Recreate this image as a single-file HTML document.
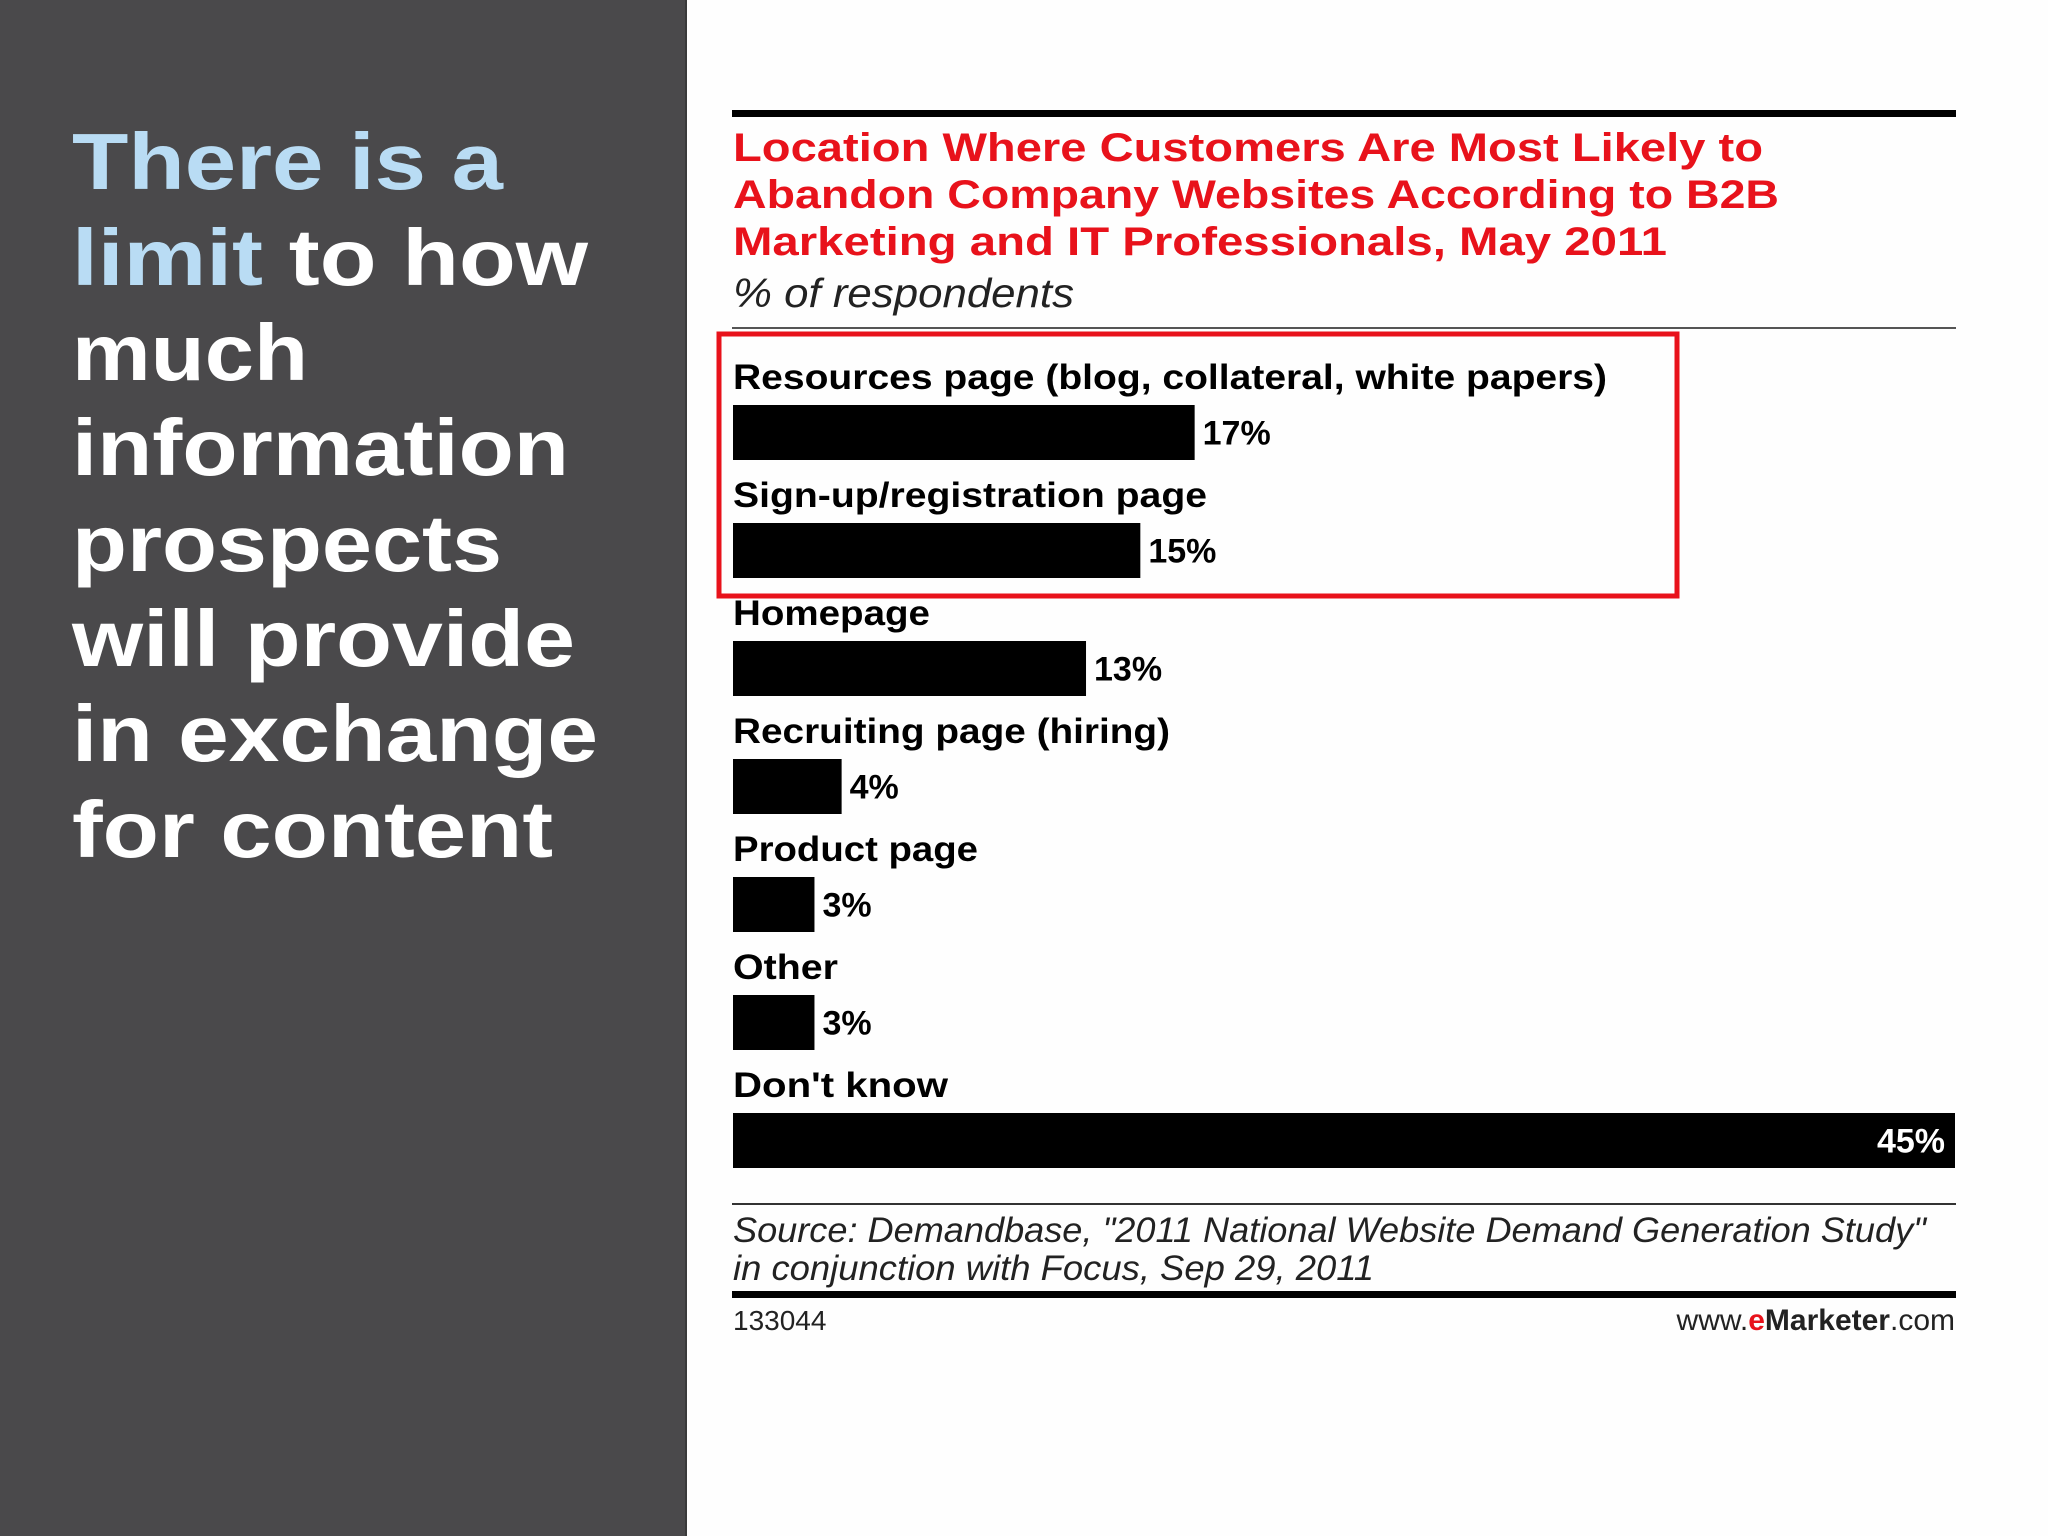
<!DOCTYPE html>
<html><head><meta charset="utf-8"><style>
html,body{margin:0;padding:0;background:#fff;}
svg{display:block;}
</style></head><body>
<svg width="2048" height="1536" viewBox="0 0 2048 1536" xmlns="http://www.w3.org/2000/svg">
<rect x="0" y="0" width="2048" height="1536" fill="#fefefe"/>
<rect x="0" y="0" width="686" height="1536" fill="#4a494b"/>
<rect x="685" y="0" width="2" height="1536" fill="#3a3a3a"/>
<g font-family="'Liberation Sans',sans-serif" font-weight="bold" font-size="80" fill="#ffffff">
<text x="72" y="189" textLength="431" lengthAdjust="spacingAndGlyphs" fill="#b9dcf4">There is a</text>
<text x="72" y="285" textLength="516" lengthAdjust="spacingAndGlyphs"><tspan fill="#b9dcf4">limit</tspan> to how</text>
<text x="72" y="380" textLength="236" lengthAdjust="spacingAndGlyphs">much</text>
<text x="72" y="475" textLength="497" lengthAdjust="spacingAndGlyphs">information</text>
<text x="72" y="571" textLength="430" lengthAdjust="spacingAndGlyphs">prospects</text>
<text x="72" y="666" textLength="503" lengthAdjust="spacingAndGlyphs">will provide</text>
<text x="72" y="761" textLength="526" lengthAdjust="spacingAndGlyphs">in exchange</text>
<text x="72" y="857" textLength="481" lengthAdjust="spacingAndGlyphs">for content</text>
</g>
<rect x="732" y="110" width="1224" height="7" fill="#000"/>
<g font-family="'Liberation Sans',sans-serif" font-weight="bold" font-size="40" fill="#e8121b">
<text x="733" y="161" textLength="1030" lengthAdjust="spacingAndGlyphs">Location Where Customers Are Most Likely to</text>
<text x="733" y="208" textLength="1046" lengthAdjust="spacingAndGlyphs">Abandon Company Websites According to B2B</text>
<text x="733" y="255" textLength="934" lengthAdjust="spacingAndGlyphs">Marketing and IT Professionals, May 2011</text>
</g>
<text x="733" y="307" font-family="'Liberation Sans',sans-serif" font-style="italic" font-size="41" fill="#222" textLength="341" lengthAdjust="spacingAndGlyphs">% of respondents</text>
<rect x="732" y="327" width="1224" height="2" fill="#555"/>
<g id="bars"></g>
<rect x="719" y="334" width="958" height="262" fill="none" stroke="#e8121b" stroke-width="5"/>
<rect x="732" y="1203" width="1224" height="2" fill="#333"/>
<g font-family="'Liberation Sans',sans-serif" font-style="italic" font-size="35" fill="#222">
<text x="733" y="1242" textLength="1193" lengthAdjust="spacingAndGlyphs">Source: Demandbase, "2011 National Website Demand Generation Study"</text>
<text x="733" y="1280" textLength="641" lengthAdjust="spacingAndGlyphs">in conjunction with Focus, Sep 29, 2011</text>
</g>
<rect x="732" y="1291" width="1224" height="7" fill="#000"/>
<text x="733" y="1330" font-family="'Liberation Sans',sans-serif" font-size="28" fill="#222">133044</text>
<text x="1955" y="1330" text-anchor="end" font-family="'Liberation Sans',sans-serif" font-size="30" fill="#222">www.<tspan fill="#e8121b" font-weight="bold">e</tspan><tspan font-weight="bold">Marketer</tspan>.com</text>
</svg>
<script>
const categories = ["Resources page (blog, collateral, white papers)","Sign-up/registration page","Homepage","Recruiting page (hiring)","Product page","Other","Don't know"];
const values = [17,15,13,4,3,3,45];
const valueLabels = ["17%","15%","13%","4%","3%","3%","45%"];
const labelWidths = [874,474,197,437,245,105,215];
const NS="http://www.w3.org/2000/svg";
const g=document.getElementById('bars');
const x0=733, xMax=1955, vMax=45;
function xScale(v){return x0+(xMax-x0)*v/vMax;}
function yLabel(i){return 389+i*118;}
function yBar(i){return 405+i*118;}
const barH=55;
categories.forEach((c,i)=>{
  const t=document.createElementNS(NS,'text');
  
  
  t.setAttribute('x',x0);t.setAttribute('y',yLabel(i));
  t.setAttribute('font-family',"'Liberation Sans',sans-serif");
  t.setAttribute('font-weight','bold');t.setAttribute('font-size','35');
  t.setAttribute('textLength',labelWidths[i]);t.setAttribute('lengthAdjust','spacingAndGlyphs');
  t.textContent=c;g.appendChild(t);
  const r=document.createElementNS(NS,'rect');
  
  
  const w=xScale(values[i])-x0;
  r.setAttribute('x',x0);r.setAttribute('y',yBar(i));r.setAttribute('width',w);r.setAttribute('height',barH);
  r.setAttribute('fill','#000');g.appendChild(r);
  const v=document.createElementNS(NS,'text');
  
  
  v.setAttribute('font-family',"'Liberation Sans',sans-serif");
  v.setAttribute('font-weight','bold');v.setAttribute('font-size','34');
  v.setAttribute('y',yBar(i)+barH/2+12);
  const inside = values[i]/vMax>0.8;
  if(inside){v.setAttribute('x',x0+w-10);v.setAttribute('text-anchor','end');v.setAttribute('fill','#fff');}
  else{v.setAttribute('x',x0+w+8);v.setAttribute('fill','#000');}
  v.textContent=valueLabels[i];g.appendChild(v);
});
</script>
</body></html>
